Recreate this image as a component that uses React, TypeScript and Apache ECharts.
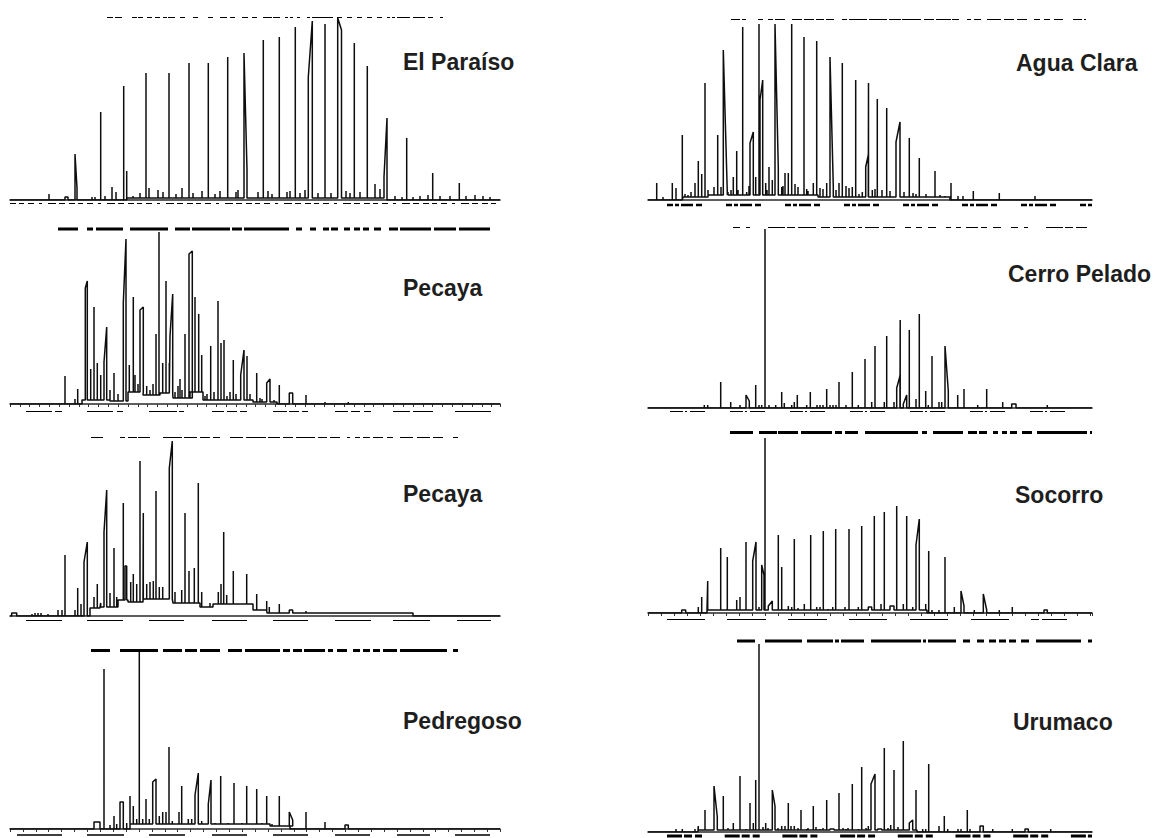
import React, { useEffect, useRef } from "react";
import * as echarts from "echarts";

// Peaks: [x, height] or [x, height, x2, height2] (slanted double top / shoulder)
// x in scan units from start of the trace, height in abundance units
const elParaisoPeaks = [
  [39, 6], [55, 3, 58, 3], [65, 46, 67, 12], [82, 3], [85, 3], [90.7, 88], [95, 4], [102, 13], [106, 8],
  [113.7, 114], [116.7, 29], [123, 4], [130, 7], [136, 127], [139, 12], [148, 10], [153, 8], [159, 127],
  [166, 6], [172, 12], [179, 137], [183, 7], [192, 9], [198.3, 137], [205, 6], [210, 9], [217.7, 143],
  [226, 8], [228, 10], [234, 147, 237, 30], [248, 8], [253.3, 160], [258, 9], [262, 6], [269.3, 163],
  [277, 8], [280, 9], [285.3, 173], [290, 7], [295, 10], [298.3, 123, 302.3, 179], [308, 7], [315, 176],
  [321, 7], [327.7, 182, 331.5, 170], [336, 9], [340, 7], [344.3, 157], [350, 8], [357.3, 134], [365, 16],
  [370, 11], [374, 23, 377, 82], [385, 4], [392, 3], [396.7, 62], [403, 3], [410, 4], [418, 5], [422.7, 27],
  [430, 4], [440, 4], [449.3, 17], [456, 4], [465, 5], [473, 4], [480, 3],
];
const elParaisoBase = [[117, 2], [377, 0]];

const pecaya1Peaks = [
  [55, 28], [65, 5], [67.7, 15], [75.3, 116, 77.3, 123], [80.7, 35], [84, 97], [87.3, 41], [90.7, 29],
  [94, 42, 96.7, 77], [100, 14], [104, 31], [108, 10], [113.3, 101, 116, 165], [119.3, 39], [123.3, 107],
  [125, 29], [128, 20], [130, 94, 133.3, 97], [136.7, 18], [140, 14], [143, 20], [146, 70], [149, 172],
  [152.7, 41], [156, 123], [159.3, 41], [160, 68, 162.7, 110], [165, 12], [168, 18], [170, 25], [172, 14],
  [175, 70], [179, 150, 182.3, 153], [185, 107], [188.7, 90], [191.7, 49], [195, 8], [197, 10], [200.7, 58],
  [204, 12], [208, 103], [211, 61], [214, 64], [217, 8], [220, 12], [223.3, 44], [226, 10],
  [230.7, 29, 234, 54], [237, 48], [240, 10], [246.7, 31], [250, 6], [252, 5], [256.7, 21, 260, 25],
  [264, 4], [269.3, 19], [279.3, 11, 282.7, 11], [296, 9], [315, 2], [338.3, 2],
];
const pecaya1Base = [[72, 4], [100, 3], [118, 12], [133, 9], [150, 11], [163, 6], [180, 12], [193, 4], [243, 2], [267, 0]];

const pecaya2Peaks = [
  [1.7, 3, 6.7, 3], [22, 2], [25, 3], [28, 3], [31, 3], [38, 2], [48, 6], [52, 6], [55, 61], [65, 6],
  [67.7, 28], [71, 12], [74, 54, 77.3, 74], [80.7, 8], [84, 19], [87.3, 32], [90.7, 13], [94, 84, 96.7, 126],
  [100, 23], [104, 68], [106.7, 19], [113.3, 113], [115, 50, 116.7, 50], [120.7, 34], [123.3, 42],
  [126.7, 32], [130, 155], [133.3, 103], [136.7, 32], [140, 34], [143.3, 35], [146, 125], [149.3, 29],
  [152.7, 29], [159.3, 148, 162.3, 175], [165, 24], [171.7, 26], [175, 103], [179, 45], [184.3, 48],
  [188.3, 133], [191.7, 24], [200, 13], [208.3, 24], [211, 32], [213.7, 84], [216.7, 21], [223.3, 45],
  [236.7, 42], [246.7, 22], [256.7, 15], [259.3, 9], [269.3, 12], [279.3, 6, 282.7, 6], [296, 5],
];
const pecaya2Base = [[80, 8], [90, 9], [108, 16], [118, 14], [133, 17], [163, 13], [190, 9], [203, 12], [243, 6], [257, 3], [403, 0]];

const pedregosoPeaks = [
  [84, 7, 90, 7], [94, 160], [100, 4], [104, 13], [106.7, 5], [110, 27, 113.3, 27], [116.7, 6], [120, 33],
  [123.3, 23], [126.7, 10], [129.3, 177], [132.7, 10], [136, 30], [139.3, 10], [142.7, 47, 146, 50],
  [149.3, 13], [152.7, 17], [156, 17], [159, 82], [162.3, 8], [169, 17], [171.7, 43], [178.3, 10],
  [181.7, 10], [185, 34, 188.3, 56], [191.7, 8], [198.3, 25, 201, 49], [205, 6], [210.7, 53], [214, 4],
  [218, 6], [224, 46], [228, 5], [232, 6], [236.7, 43], [240, 5], [246.7, 40], [252, 6], [256.7, 33],
  [262, 5], [269.3, 33], [279.3, 17, 282.7, 9], [296, 17], [315, 7], [335, 4, 338.3, 4],
];
const pedregosoBase = [[120, 5], [260, 3], [280, 0]];

const aguaClaraPeaks = [
  [8.7, 17], [15, 3], [24.3, 17], [28, 12], [34.3, 65], [37, 6], [40, 5], [43, 8], [47, 17], [50.3, 39],
  [53.7, 26], [57, 117], [60, 10], [62, 5], [66, 13], [69.7, 65], [73, 13], [75.3, 150, 79.3, 7], [80, 8],
  [83, 10], [85.3, 23], [88.7, 49], [90, 10], [94.7, 173], [98.7, 8], [101, 14], [102, 57, 105.3, 68],
  [107.7, 23], [111, 176], [112, 100, 114.7, 120], [117.7, 17], [119, 10], [121, 33], [124.3, 20],
  [127, 176, 130.3, 32], [133.7, 13], [135, 14], [137, 27], [140.3, 27], [143.7, 176], [147, 16], [150, 13],
  [156, 163], [158.7, 11], [160, 9], [165.3, 17], [168.7, 159], [172, 12], [175, 11], [178.7, 17],
  [182, 143, 185.3, 13], [188, 10], [191, 17], [194.3, 137], [198, 14], [201, 12], [204.3, 13],
  [207.7, 120], [211, 6], [214.3, 8], [217.7, 33, 220.3, 45], [220.5, 117], [224.3, 10], [227, 11],
  [229.3, 101], [234, 10], [238.7, 92], [242, 9], [248, 58, 252, 78], [256, 8], [261.3, 62], [265, 7],
  [268, 6], [271.3, 42], [278, 6], [287, 29], [292, 5], [297, 4], [303, 17], [310, 4], [315, 4],
  [325.3, 9], [351.3, 7], [387, 4],
];
const aguaClaraBase = [[35, 3], [60, 5], [170, 3], [302, 0]];

const cerroPeladoPeaks = [
  [56.3, 3], [59.7, 3], [72.7, 26], [82.7, 6], [92, 3], [98, 13, 101.3, 7], [107.7, 23], [111, 3],
  [113.7, 3], [117, 179], [121, 3], [127.7, 3], [133.7, 16], [136.3, 5], [143.7, 3], [146.3, 6],
  [149.3, 13], [158.7, 3], [162.3, 16], [169, 3], [172, 3], [175, 3], [178.7, 19], [182, 3], [185, 3],
  [188, 3], [191, 26], [198, 3], [204.3, 36], [210.3, 3], [217, 49], [223.7, 6], [227, 62], [236.3, 6],
  [238.7, 72], [246, 6], [248.7, 20, 252, 32], [252.2, 88], [255.3, 4, 258.7, 13], [261.3, 78], [268, 9],
  [271.3, 94], [277.7, 17], [280.3, 3], [284, 52], [291, 6], [293.7, 6], [297, 62, 300.3, 17],
  [309.7, 13], [316, 19], [329.7, 3], [338.7, 19], [354.7, 6], [363.7, 4, 368, 4], [399.3, 3],
];
const cerroPeladoBase: number[][] = [];

const socorroPeaks = [
  [33.7, 3, 37.7, 3], [50.3, 6], [53.7, 16], [59.7, 32], [66, 3], [70, 3], [72.7, 65], [76, 3], [79.3, 56],
  [83, 3], [86, 3], [88.7, 13], [92, 16], [98, 71], [101.3, 3], [104.7, 52, 108, 71], [111, 6],
  [113.7, 48, 116, 38], [117, 175], [120.3, 7, 124.3, 12], [130.3, 78], [133.7, 46], [140.3, 7],
  [143.7, 6], [146.3, 74], [150, 5], [156.3, 9], [162.7, 78], [168.7, 6], [172, 6], [175.3, 82], [180, 4],
  [184.7, 6], [187.7, 84], [197, 6], [201, 84], [210.3, 6], [213.7, 87], [220.3, 6, 223.7, 6], [226.3, 97],
  [233, 9], [236.3, 101], [242, 7, 246, 7], [248.7, 107], [255.3, 9], [258.7, 97], [264.7, 6],
  [268, 68, 271.3, 94], [277.7, 9], [280.7, 62], [284, 3], [291, 3], [297, 56], [306.3, 6],
  [313, 22, 316, 7], [326.3, 3], [335.3, 19, 338.7, 3], [351.3, 3], [364.3, 6], [396, 3, 399.3, 3],
];
const socorroBase = [[59, 3], [279, 0]];

const urumacoPeaks = [
  [28, 3], [34.3, 3], [47, 3], [50.3, 6], [57, 22], [66, 46, 69.3, 15], [75.3, 36], [80, 4], [85.3, 9],
  [92, 56], [98, 3], [102, 29], [105.3, 9], [107.7, 52], [111, 188], [115, 5], [117.7, 9], [120, 4],
  [124.3, 42, 127, 26], [130, 4], [133.7, 6], [137, 6], [140.3, 29], [143, 6], [146.3, 6], [150, 4],
  [153, 22], [158.7, 3], [160, 4], [165.3, 26], [168, 5], [172, 3], [175, 4], [178.7, 32], [182, 3, 186, 3],
  [191, 39], [195, 4], [198, 3], [200, 4], [204.3, 48], [210.3, 3], [213.7, 65], [218, 4], [220.3, 6],
  [223, 48, 227, 58], [229.7, 3, 233.7, 3], [236.3, 84], [240, 4], [242.7, 7], [246, 62], [250, 5],
  [255.3, 91], [261.3, 9, 264.7, 12], [268, 42], [274.7, 3], [277.7, 3], [280.7, 68], [291, 6],
  [296.3, 16], [299.7, 3], [310, 3], [313, 3], [319.3, 22], [322, 3], [332, 6, 335.3, 6], [344.7, 3],
  [364.3, 3], [377, 3, 380.3, 3], [402.7, 3],
];
const urumacoBase = [[50, 2], [269, 0]];

const siteNames = ["El Paraíso", "Pecaya", "Pecaya", "Pedregoso", "Agua Clara", "Cerro Pelado", "Socorro", "Urumaco"];
const tracePeaks = [elParaisoPeaks, pecaya1Peaks, pecaya2Peaks, pedregosoPeaks, aguaClaraPeaks, cerroPeladoPeaks, socorroPeaks, urumacoPeaks];
const traceBases = [elParaisoBase, pecaya1Base, pecaya2Base, pedregosoBase, aguaClaraBase, cerroPeladoBase, socorroBase, urumacoBase];
const traceSpans = [490, 490, 490, 490, 444, 444, 444, 444];
const traceMaxima = [182, 172, 175, 177, 176, 179, 175, 188];
const tickSteps = [0, 9.83, 0, 12.9, 0, 0, 13, 0];

// layout (pixels)
const layout = [
  { left: 10, base: 200, lx: 403, ly: 62 },
  { left: 10, base: 404, lx: 403, ly: 288 },
  { left: 10, base: 616, lx: 403, ly: 494 },
  { left: 10, base: 829, lx: 403, ly: 721 },
  { left: 648, base: 200, lx: 1016, ly: 63 },
  { left: 648, base: 408, lx: 1008, ly: 274 },
  { left: 648, base: 613, lx: 1015, ly: 495 },
  { left: 648, base: 832, lx: 1013, ly: 722 },
];

// decorative broken rules of the scanned figure
const rules = [
  { x1: 107, x2: 443, y: 17.5, w: 1, dash: [6, 2, 7, 10, 5, 1, 5, 4, 5, 3, 5, 3, 4, 1, 7, 5, 5, 8, 5, 10, 5, 7, 7, 3, 5, 7, 6, 4, 5, 6, 9, 1, 7, 5, 3, 2, 3, 4, 3, 7, 3, 2, 21, 4, 5, 5, 5, 5, 5, 5, 5, 5, 5, 5, 3, 2, 3, 2, 13, 3, 12, 3, 5, 7, 3] },
  { x1: 10, x2: 500, y: 203.5, w: 1, dash: [6, 3, 5, 4, 6, 5, 3, 6, 8, 3, 6, 4] },
  { x1: 58, x2: 490, y: 229, w: 3, dash: [20, 9, 6, 3, 27, 7, 38, 7, 15, 2, 38, 2, 10, 2, 45, 7, 6, 8, 6, 7, 6, 2, 7, 6, 6, 4, 6, 3, 6, 5, 7, 8, 9, 2, 31, 3, 22, 3, 32, 10] },
  { x1: 26, x2: 491, y: 411.5, w: 1, dash: [26, 3, 7, 25, 26, 4, 6, 26, 28, 2, 5, 28, 12, 3, 10, 3, 7, 26, 14, 2, 10, 3, 6, 27, 13, 3, 9, 4, 7, 22, 17, 3, 20, 22, 36, 10] },
  { x1: 91, x2: 458, y: 437.5, w: 1, dash: [12, 17, 5, 3, 9, 1, 12, 13, 19, 2, 13, 3, 10, 3, 7, 10, 13, 3, 20, 2, 12, 3, 10, 3, 19, 3, 9, 3, 10, 7, 3, 5, 5, 3, 7, 3, 10, 4, 6, 7, 13, 4, 13, 3, 10, 10, 5, 10] },
  { x1: 26, x2: 491, y: 620.5, w: 1, dash: [36, 25, 36, 26, 35, 28, 35, 26, 35, 27, 36, 22, 37, 27, 34, 10] },
  { x1: 91, x2: 458, y: 650.5, w: 3, dash: [19, 10, 38, 5, 19, 3, 12, 3, 20, 8, 14, 3, 35, 3, 7, 3, 9, 2, 21, 3, 5, 4, 10, 6, 7, 3, 7, 3, 7, 3, 14, 3, 47, 6, 5, 10] },
  { x1: 17, x2: 490, y: 835, w: 1.5, dash: [45, 25, 37, 25, 36, 27, 35, 26, 35, 27, 35, 27, 33, 25, 35, 10] },
  { x1: 731, x2: 1086, y: 19.5, w: 1, dash: [9, 2, 4, 12, 5, 5, 5, 2, 10, 7, 10, 2, 10, 2, 8, 2, 8, 8, 5, 2, 18, 2, 18, 2, 12, 1, 19, 3, 10, 2, 15, 1, 7, 8, 4, 3, 7, 6, 14, 3, 10, 3, 10, 7, 6, 4, 6, 4, 9, 10] },
  { x1: 667, x2: 1092, y: 205, w: 2.5, dash: [6, 2, 4, 2, 12, 3, 6, 24] },
  { x1: 733, x2: 1087, y: 227.5, w: 1, dash: [7, 6, 4, 18, 17, 2, 8, 3, 18, 5, 9, 3, 13, 3, 6, 3, 4, 3, 14, 4, 12, 10, 6, 5, 6, 6, 8, 10, 5, 5, 5, 5, 12, 3, 6, 6, 8, 10] },
  { x1: 670, x2: 1067, y: 411.5, w: 1, dash: [13, 2, 2, 3, 15, 25] },
  { x1: 730, x2: 1092, y: 432.5, w: 3, dash: [23, 6, 18, 1, 20, 3, 31, 3, 7, 3, 13, 7, 53, 4, 5, 6, 30, 5, 9, 2, 8, 6, 5, 4, 5, 3, 7, 5, 10, 5, 50, 3, 3, 10] },
  { x1: 667, x2: 1067, y: 619.5, w: 1, dash: [38, 22, 39, 22, 39, 22, 38, 23, 38, 23, 38, 22, 8, 3, 26, 30] },
  { x1: 737, x2: 1092, y: 641, w: 3, dash: [18, 10, 37, 5, 26, 2, 4, 2, 23, 7, 50, 2, 3, 2, 28, 7, 7, 7, 7, 5, 7, 3, 7, 3, 7, 5, 8, 7, 45, 7, 5] },
  { x1: 667, x2: 1092, y: 836, w: 3, dash: [15, 2, 8, 3, 7, 22.7] },
];

function buildTrace(peaks: number[][], base: number[][], span: number) {
  const evs = [
    ...base.map((b) => ({ x: b[0], kind: 0, v: b })),
    ...peaks.map((p) => ({ x: p[0], kind: 1, v: p })),
  ].sort((a, b) => a.x - b.x || a.kind - b.kind);
  const pts: number[][] = [[0, 0]];
  let lvl = 0;
  for (const e of evs) {
    if (e.kind === 0) {
      pts.push([e.x, lvl]);
      lvl = e.v[1];
      pts.push([e.x, lvl]);
    } else {
      const [x, h, x2, h2] = e.v;
      pts.push([x, lvl], [x, Math.max(h, lvl)]);
      if (x2 !== undefined) pts.push([x2, Math.max(h2, lvl)], [x2, lvl]);
      else pts.push([x, lvl]);
    }
  }
  pts.push([span, lvl], [span, 0]);
  return pts;
}

export default function App() {
  const ref = useRef<HTMLDivElement>(null);
  useEffect(() => {
    if (!ref.current) return;
    const chart = echarts.init(ref.current, undefined, { renderer: "svg" });
    const grid: any[] = [];
    const xAxis: any[] = [];
    const yAxis: any[] = [];
    const series: any[] = [];
    const graphic: any[] = [];
    layout.forEach((L, i) => {
      const ymax = traceMaxima[i];
      grid.push({ left: L.left, top: L.base - ymax, width: traceSpans[i], height: ymax });
      const tick = tickSteps[i];
      const xa: any = {
        gridIndex: i,
        type: "value",
        min: 0,
        max: traceSpans[i],
        axisLabel: { show: false },
        splitLine: { show: false },
        axisLine: { show: true, lineStyle: { color: "#2a2a2a", width: 1.6 } },
        axisTick: tick ? { show: true, inside: false, length: 3, lineStyle: { color: "#333", width: 1 } } : { show: false },
      };
      if (tick) xa.interval = tick;
      xAxis.push(xa);
      yAxis.push({ gridIndex: i, type: "value", min: 0, max: ymax, show: false });
      series.push({
        type: "line",
        xAxisIndex: i,
        yAxisIndex: i,
        data: buildTrace(tracePeaks[i], traceBases[i], traceSpans[i]),
        showSymbol: false,
        symbol: "none",
        lineStyle: { color: "#0d0d0d", width: 1.5 },
        silent: true,
      });
      graphic.push({
        type: "text",
        x: L.lx,
        y: L.ly,
        style: {
          text: siteNames[i],
          fontSize: 23,
          fontWeight: "bold",
          fontFamily: '"Liberation Sans", Arial, sans-serif',
          fill: "#1e1e1e",
          verticalAlign: "middle",
          align: "left",
        },
      });
    });
    rules.forEach((r) => {
      graphic.push({
        type: "line",
        shape: { x1: r.x1, y1: r.y, x2: r.x2, y2: r.y },
        style: { stroke: "#000", lineWidth: r.w, lineDash: r.dash },
        silent: true,
      });
    });
    chart.setOption({
      animation: false,
      backgroundColor: "#fff",
      grid,
      xAxis,
      yAxis,
      series,
      graphic,
    });
    return () => chart.dispose();
  }, []);
  return <div ref={ref} style={{ position: "absolute", left: 0, top: 0, width: 1171, height: 838 }} />;
}
